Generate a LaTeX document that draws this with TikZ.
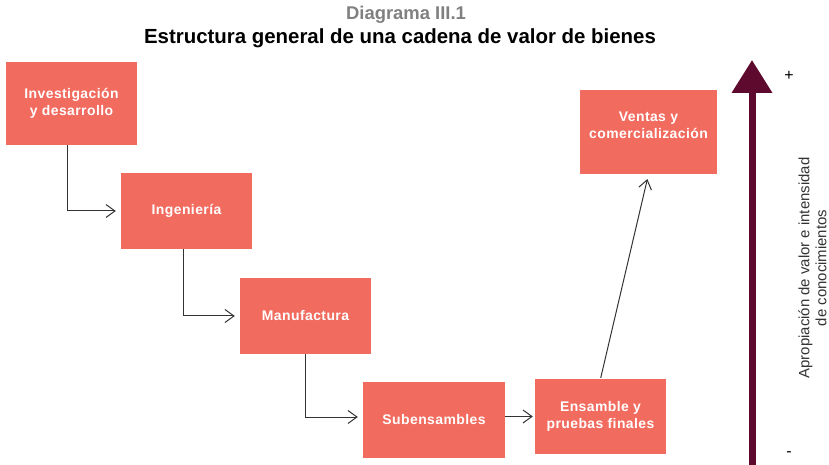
\documentclass[tikz,border=0pt]{standalone}
\usepackage{fontspec}
\setmainfont{Liberation Sans}
\newfontfamily\boxfont[LetterSpace=3]{Liberation Sans}
\usetikzlibrary{positioning, arrows.meta}

\definecolor{salmon}{HTML}{F26B5F}
\definecolor{vino}{HTML}{5E0A2E}
\definecolor{linea}{HTML}{333333}

\tikzset{
    etapa/.style={rectangle, fill=salmon, text=white, align=center,
        font=\boxfont\bfseries\fontsize{14}{17.5}\selectfont,
        minimum width=131bp, minimum height=76bp, inner sep=2bp},
    flecha/.style={draw=linea, line width=1bp, shorten >=5bp,
        -{Straight Barb[length=9bp,width=13bp]}},
}

\begin{document}
\begin{tikzpicture}[x=1bp, y=-1bp]
                        \useasboundingbox (0,0) rectangle (829,465);

                        % titulo
                        \node[text=gray, font=\bfseries\fontsize{18.5}{20}\selectfont] (num) at (406,15) {Diagrama III.1};
                        \node[font=\bfseries\fontsize{20.5}{22}\selectfont] (tit) at (400,38) {Estructura general de una cadena de valor de bienes};

                        % etapas
                        \node[etapa, minimum height=83bp] (inv) at (71.5,103.5) {Investigación\\y desarrollo};
                        \node[etapa] (ing) at (186.5,211) {Ingeniería};
                        \node[etapa] (man) at (305.5,316) {Manufactura};
                        \node[etapa, minimum width=142bp] (sub) at (434,420) {Subensambles};
                        \node[etapa, minimum height=75bp] (ens) at (600.5,416.5) {Ensamble y\\pruebas finales};
                        \node[etapa, minimum width=137bp, minimum height=84bp, text depth=14bp] (ven) at (648.5,132) {Ventas y\\comercialización};

                        \draw[flecha] ([xshift=-4bp]inv.south) |- (ing.west);
                        \draw[flecha] ([xshift=-3bp]ing.south) |- (man.west);
                        \draw[flecha] (man.south) |- ([yshift=3bp]sub.west);
                        \draw[flecha, shorten >=2bp] (sub.east |- ens.west) -- (ens.west);
                        \draw[flecha, shorten <=1bp] (ens.north) -- (ven.south);

                        % eje de apropiacion
                        \coordinate (bajo) at (752,465);
                        \coordinate (alto) at (752,60);
                        \draw[vino, line width=7bp, -{Triangle[length=33bp,width=39bp]}] (bajo) -- (alto);
                        \node[font=\fontsize{16}{18}\selectfont] (mas) at (789,76) {+};
                        \node[font=\fontsize{16}{18}\selectfont] (menos) at (789,454) {-};
                        \node[rotate=90, align=center, inner sep=0pt, text=linea, font=\fontsize{15}{17}\selectfont] (eje) at (812.5,268) {Apropiación de valor e intensidad\\de conocimientos};
                    \end{tikzpicture}
\end{document}
